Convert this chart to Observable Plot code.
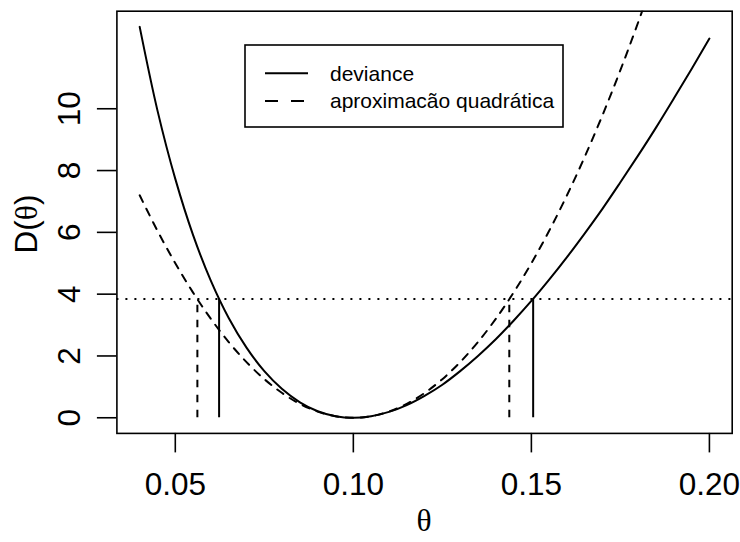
<!DOCTYPE html>
<html>
<head>
<meta charset="utf-8">
<script src="https://cdn.jsdelivr.net/npm/d3@7"></script>
<script src="https://cdn.jsdelivr.net/npm/@observablehq/plot@0.6"></script>
<style>
  body { margin: 0; background: #fff; }
  #chart { width: 740px; height: 542px; }
</style>
</head>
<body>
<div id="chart"></div>
<script>
// θ grid
const theta = [0.040, 0.045, 0.050, 0.055, 0.060, 0.065, 0.070, 0.075, 0.080, 0.085,
               0.090, 0.095, 0.100, 0.105, 0.110, 0.115, 0.120, 0.125, 0.130, 0.135,
               0.140, 0.145, 0.150, 0.155, 0.160, 0.165, 0.170, 0.175, 0.180, 0.185,
               0.190, 0.195, 0.200];
// deviance curve (solid)
const deviance = [12.65, 9.94, 7.73, 5.91, 4.43, 3.23, 2.27, 1.51, 0.93, 0.50,
                  0.21, 0.05, 0.00, 0.05, 0.19, 0.41, 0.71, 1.07, 1.51, 2.00,
                  2.54, 3.14, 3.78, 4.47, 5.20, 5.97, 6.77, 7.62, 8.49, 9.39,
                  10.33, 11.29, 12.27];
// quadratic approximation (dashed), leaves the panel at the top
const quadratic = [7.20, 6.05, 5.00, 4.05, 3.20, 2.45, 1.80, 1.25, 0.80, 0.45,
                   0.20, 0.05, 0.00, 0.05, 0.20, 0.45, 0.80, 1.25, 1.80, 2.45,
                   3.20, 4.05, 5.00, 6.05, 7.20, 8.45, 9.80, 11.25, 12.80, 14.45];
const cutoff = 3.84;
const ciDeviance = [0.0623, 0.1505];
const ciQuadratic = [0.0562, 0.1438];
const xTicks = [0.05, 0.10, 0.15, 0.20];
const yTicks = [0, 2, 4, 6, 8, 10];
const legendLabels = ["deviance", "aproximacão quadrática"];
const xTitle = "θ";
const yTitle = ["D(", "θ", ")"];

const devData = theta.map((t, i) => ({t, d: deviance[i]}));
const quadData = quadratic.map((q, i) => ({t: theta[i], q}));

const sans = "'Liberation Sans', Arial, Helvetica, sans-serif";
const serif = "'Liberation Serif', 'DejaVu Serif', serif";
const fs = 31.5;

const plot = Plot.plot({
  width: 740,
  height: 542,
  marginLeft: 116.4,
  marginRight: 8.3,
  marginTop: 10.7,
  marginBottom: 109.1,
  style: {fontFamily: sans, fontSize: fs + "px", color: "black", background: "white"},
  x: {domain: [0.0336, 0.2064]},
  y: {domain: [-0.506, 13.157]},
  marks: [
    Plot.axisX({ticks: xTicks, tickSize: 19.5, tickPadding: 19.5, tickFormat: d3.format(".2f"),
                fontSize: fs, label: null, strokeWidth: 1.6}),
    Plot.axisY({ticks: yTicks, tickSize: 19.5, tickFormat: () => "", label: null, strokeWidth: 1.6}),
    Plot.text(yTicks, {y: d => d, text: d => String(d), frameAnchor: "left", rotate: -90,
                       dx: -47.4, fontSize: fs, lineAnchor: "middle", textAnchor: "middle"}),
    Plot.ruleY([cutoff], {stroke: "black", strokeWidth: 2, strokeDasharray: "2,7"}),
    Plot.ruleX(ciQuadratic, {x: d => d, y1: 0, y2: cutoff, stroke: "black", strokeWidth: 2, strokeDasharray: "7.5,7.5"}),
    Plot.ruleX(ciDeviance, {x: d => d, y1: 0, y2: cutoff, stroke: "black", strokeWidth: 2}),
    Plot.line(quadData, {x: "t", y: "q", curve: "catmull-rom", stroke: "black", strokeWidth: 2,
                         strokeDasharray: "7.5,7.5", clip: true}),
    Plot.line(devData, {x: "t", y: "d", curve: "catmull-rom", stroke: "black", strokeWidth: 2, clip: true}),
    Plot.frame({stroke: "black", strokeWidth: 1.6})
  ]
});

document.getElementById("chart").appendChild(plot);

const svg = d3.select(plot);

// x axis title
svg.append("text")
  .attr("x", 424).attr("y", 531)
  .attr("text-anchor", "middle")
  .attr("font-family", serif).attr("font-size", fs)
  .attr("fill", "black")
  .text(xTitle);

// y axis title
const yt = svg.append("text")
  .attr("transform", "translate(37,224) rotate(-90)")
  .attr("text-anchor", "middle")
  .attr("font-family", sans).attr("font-size", fs)
  .attr("fill", "black");
yt.append("tspan").text(yTitle[0]);
yt.append("tspan").attr("font-family", serif).text(yTitle[1]);
yt.append("tspan").text(yTitle[2]);

// legend
const lg = svg.append("g");
lg.append("rect").attr("x", 245).attr("y", 45).attr("width", 318).attr("height", 82)
  .attr("fill", "white").attr("stroke", "black").attr("stroke-width", 1.6);
const rows = [{y: 73.3, dash: null}, {y: 101, dash: "13,13"}];
rows.forEach((r, i) => {
  const ln = lg.append("line").attr("x1", 265).attr("x2", 308).attr("y1", r.y).attr("y2", r.y)
    .attr("stroke", "black").attr("stroke-width", 2);
  if (r.dash) ln.attr("stroke-dasharray", r.dash);
  lg.append("text").attr("x", 330).attr("y", r.y).attr("dy", "0.35em")
    .attr("text-anchor", "start")
    .attr("font-family", sans).attr("font-size", 21).attr("fill", "black")
    .text(legendLabels[i]);
});
</script>
</body>
</html>
